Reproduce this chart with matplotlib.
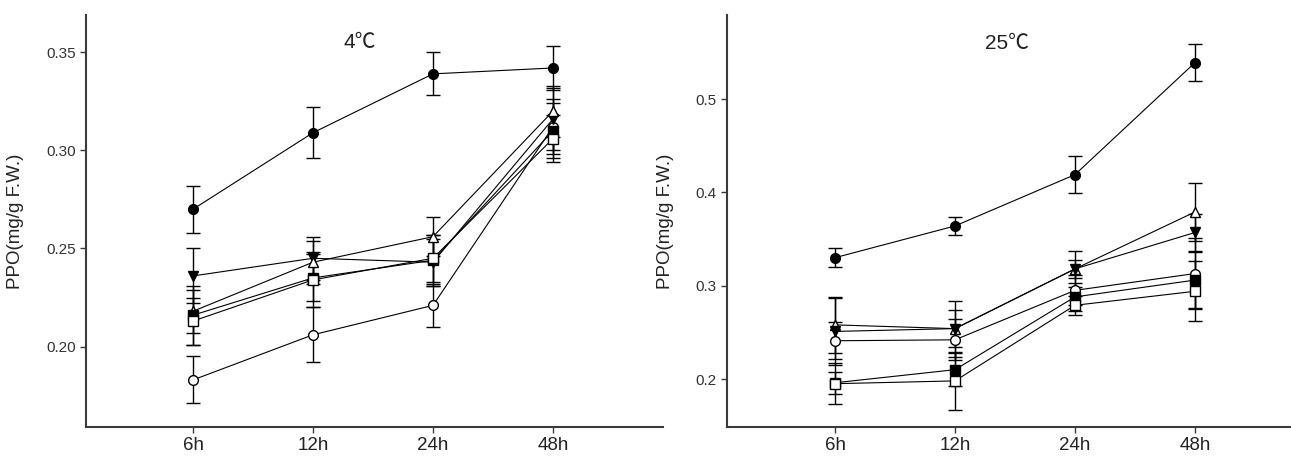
import numpy as np
import matplotlib
matplotlib.use("Agg")
import matplotlib.pyplot as plt

plt.rcParams['font.family'] = ['Liberation Sans', 'Noto Sans CJK SC', 'DejaVu Sans']

times = ['6h', '12h', '24h', '48h']

# 4 degC panel
c4_filled_circle = [0.270, 0.309, 0.339, 0.342]
c4_filled_circle_err = [0.012, 0.013, 0.011, 0.011]
c4_open_circle = [0.183, 0.206, 0.221, 0.312]
c4_open_circle_err = [0.012, 0.014, 0.011, 0.014]
c4_down_tri = [0.236, 0.245, 0.243, 0.316]
c4_down_tri_err = [0.014, 0.011, 0.012, 0.016]
c4_open_tri = [0.218, 0.243, 0.256, 0.320]
c4_open_tri_err = [0.011, 0.011, 0.010, 0.013]
c4_filled_sq = [0.216, 0.235, 0.244, 0.310]
c4_filled_sq_err = [0.015, 0.012, 0.013, 0.014]
c4_open_sq = [0.213, 0.234, 0.245, 0.306]
c4_open_sq_err = [0.012, 0.014, 0.012, 0.012]

# 25 degC panel
c25_filled_circle = [0.330, 0.364, 0.419, 0.539]
c25_filled_circle_err = [0.010, 0.010, 0.020, 0.020]
c25_open_tri = [0.258, 0.254, 0.318, 0.379]
c25_open_tri_err = [0.030, 0.030, 0.019, 0.031]
c25_down_tri = [0.251, 0.254, 0.318, 0.357]
c25_down_tri_err = [0.036, 0.020, 0.010, 0.020]
c25_open_circle = [0.241, 0.242, 0.295, 0.313]
c25_open_circle_err = [0.020, 0.022, 0.016, 0.038]
c25_filled_sq = [0.196, 0.210, 0.288, 0.306]
c25_filled_sq_err = [0.012, 0.018, 0.015, 0.030]
c25_open_sq = [0.195, 0.198, 0.279, 0.294]
c25_open_sq_err = [0.022, 0.031, 0.010, 0.032]

x = np.arange(1, len(times) + 1)

def draw(ax, series):
    for y, e, m, fc in series:
        ax.errorbar(x, y, yerr=e, marker=m, color='black', mfc=fc, mec='black',
                    ms=7, lw=0.8, elinewidth=1.0, capsize=4.7, capthick=1.0)

def style(ax, yticks, ylabels, label_x):
    for s in ['top', 'right']:
        ax.spines[s].set_visible(False)
    for s in ['left', 'bottom']:
        ax.spines[s].set_linewidth(1.5)
        ax.spines[s].set_color('#3a3a3a')
    ax.set_xticks(x)
    ax.set_xticklabels(times, fontsize=13.5, color='#222222')
    ax.set_yticks(yticks)
    ax.set_yticklabels(ylabels, fontsize=11, color='#333333')
    ax.tick_params(direction='out', length=4, width=1, color='#3a3a3a')
    ax.set_ylabel('PPO(mg/g F.W.)', fontsize=13.5, color='#222222')
    ax.yaxis.set_label_coords(label_x, 0.5)

fig = plt.figure(figsize=(12.91, 4.57), dpi=100)
W, H = 1291, 457

ax1 = fig.add_axes([86 / W, 1 - 427 / H, 577 / W, 412 / H])
draw(ax1, [
    (c4_filled_circle, c4_filled_circle_err, 'o', 'black'),
    (c4_open_circle, c4_open_circle_err, 'o', 'white'),
    (c4_down_tri, c4_down_tri_err, 'v', 'black'),
    (c4_open_tri, c4_open_tri_err, '^', 'white'),
    (c4_filled_sq, c4_filled_sq_err, 's', 'black'),
    (c4_open_sq, c4_open_sq_err, 's', 'white'),
])
ax1.set_xlim(0.108, 4.917)
ax1.set_ylim(0.159, 0.369)
style(ax1, [0.20, 0.25, 0.30, 0.35], ['0.20', '0.25', '0.30', '0.35'], -0.108)
ax1.text(2.39, 0.355, '4℃', fontsize=15, ha='center', va='center', color='#222222')

ax2 = fig.add_axes([727 / W, 1 - 427 / H, 564 / W, 412 / H])
draw(ax2, [
    (c25_filled_circle, c25_filled_circle_err, 'o', 'black'),
    (c25_open_tri, c25_open_tri_err, '^', 'white'),
    (c25_down_tri, c25_down_tri_err, 'v', 'black'),
    (c25_open_circle, c25_open_circle_err, 'o', 'white'),
    (c25_filled_sq, c25_filled_sq_err, 's', 'black'),
    (c25_open_sq, c25_open_sq_err, 's', 'white'),
])
ax2.set_xlim(0.1, 4.8)
ax2.set_ylim(0.1486, 0.59)
style(ax2, [0.2, 0.3, 0.4, 0.5], ['0.2', '0.3', '0.4', '0.5'], -0.094)
ax2.text(2.43, 0.56, '25℃', fontsize=15, ha='center', va='center', color='#222222')

fig.savefig('out.png', dpi=100)
